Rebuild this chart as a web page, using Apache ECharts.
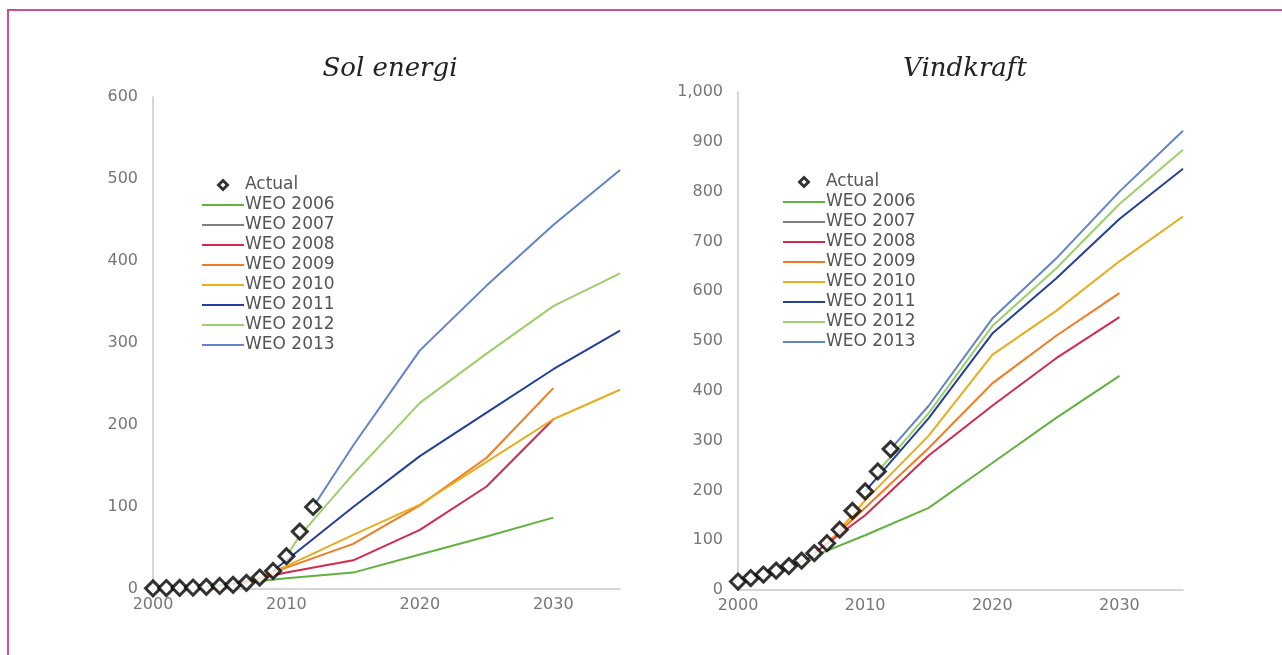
<!DOCTYPE html>
<html>
<head>
<meta charset="utf-8">
<script src="https://cdn.jsdelivr.net/npm/echarts@6/dist/echarts.min.js"></script>
<style>
html,body{margin:0;padding:0;background:#fff;}
#c{width:1282px;height:655px;}
</style>
</head>
<body>
<div id="c"></div>
<script>
// ---------- DATA ----------
var seriesNames = ['Actual','WEO 2006','WEO 2007','WEO 2008','WEO 2009','WEO 2010','WEO 2011','WEO 2012','WEO 2013'];
var xTicks = [2000, 2010, 2020, 2030];
var solarTicks = [0, 100, 200, 300, 400, 500, 600];
var windTicks = [0, 100, 200, 300, 400, 500, 600, 700, 800, 900, 1000];

// Sol energi (solar PV)
var solarActualYears  = [2000,2001,2002,2003,2004,2005,2006,2007,2008,2009,2010,2011,2012];
var solarActualValues = [0.8, 1.2, 1.4, 1.8, 2.6, 3.7, 5.1, 7.5, 14, 22, 40, 70, 100];
var solarWEO2006 = [[2004,3],[2010,13],[2015,20],[2020,42],[2025,64],[2030,87]];
var solarWEO2007 = [];
var solarWEO2008 = [[2006,6],[2010,20],[2015,35],[2020,72],[2025,125],[2030,207]];
var solarWEO2009 = [[2007,8],[2010,26],[2015,55],[2020,102],[2025,160],[2030,245]];
var solarWEO2010 = [[2008,14],[2010,28],[2015,66],[2020,103],[2025,155],[2030,207],[2035,243]];
var solarWEO2011 = [[2009,22],[2010,35],[2015,100],[2020,162],[2025,215],[2030,268],[2035,315]];
var solarWEO2012 = [[2010,40],[2011,65],[2015,140],[2020,227],[2025,287],[2030,345],[2035,385]];
var solarWEO2013 = [[2012,100],[2015,175],[2020,291],[2025,370],[2030,444],[2035,511]];

// Vindkraft (wind)
var windActualYears  = [2000,2001,2002,2003,2004,2005,2006,2007,2008,2009,2010,2011,2012];
var windActualValues = [17, 24, 31, 39, 48, 59, 74, 94, 121, 159, 198, 238, 283];
var windWEO2006 = [[2004,48],[2010,110],[2015,165],[2020,255],[2025,345],[2030,430]];
var windWEO2007 = [];
var windWEO2008 = [[2006,74],[2010,150],[2015,270],[2020,370],[2025,465],[2030,548]];
var windWEO2009 = [[2007,94],[2010,165],[2015,285],[2020,415],[2025,510],[2030,596]];
var windWEO2010 = [[2008,121],[2010,180],[2015,310],[2020,472],[2025,560],[2030,660],[2035,750]];
var windWEO2011 = [[2010,198],[2015,345],[2020,515],[2025,625],[2030,745],[2035,846]];
var windWEO2012 = [[2011,238],[2015,355],[2020,530],[2025,645],[2030,775],[2035,884]];
var windWEO2013 = [[2012,283],[2015,370],[2020,545],[2025,665],[2030,800],[2035,922]];

var colors = {
  'WEO 2006':'#62b23f','WEO 2007':'#808080','WEO 2008':'#d22a4e','WEO 2009':'#f07b22',
  'WEO 2010':'#e6ad1e','WEO 2011':'#233f9b','WEO 2012':'#9ccf6a','WEO 2013':'#6283c8'
};

// ---------- BUILD ----------
function zip(xs, ys){ return xs.map(function(x,i){return [x, ys[i]];}); }
var solarLines = [solarWEO2006,solarWEO2007,solarWEO2008,solarWEO2009,solarWEO2010,solarWEO2011,solarWEO2012,solarWEO2013];
var windLines  = [windWEO2006,windWEO2007,windWEO2008,windWEO2009,windWEO2010,windWEO2011,windWEO2012,windWEO2013];

var FONT = 'DejaVu Sans';
var series = [];
function addChart(idx, lines, actual){
  lines.forEach(function(d, i){
    var nm = seriesNames[i+1];
    series.push({
      type:'line', name:nm, xAxisIndex:idx, yAxisIndex:idx, data:d,
      symbol:'none', showSymbol:false, smooth:false,
      lineStyle:{width:2, color:colors[nm]}, itemStyle:{color:colors[nm]},
      z:2, animation:false
    });
  });
  series.push({
    type:'scatter', name:'Actual', xAxisIndex:idx, yAxisIndex:idx, data:actual,
    symbol:'diamond', symbolSize:[15,15],
    itemStyle:{color:'#ffffff', borderColor:'#000000', borderWidth:3},
    z:5, animation:false
  });
}
addChart(0, solarLines, zip(solarActualYears, solarActualValues));
addChart(1, windLines, zip(windActualYears, windActualValues));

function xAxis(idx){
  return {
    type:'value', gridIndex:idx, min:xTicks[0], max:2035, interval:xTicks[1]-xTicks[0],
    axisLine:{show:true, lineStyle:{color:'#c8c8c8', width:1.5}},
    axisTick:{show:false}, splitLine:{show:false},
    axisLabel:{show:true, showMaxLabel:false, color:'#777', fontFamily:FONT, fontSize:16, margin:8,
      formatter:function(v){return String(v);} }
  };
}
function yAxis(idx, ticks, comma){
  return {
    type:'value', gridIndex:idx, min:ticks[0], max:ticks[ticks.length-1], interval:ticks[1]-ticks[0],
    axisLine:{show:true, lineStyle:{color:'#c8c8c8', width:1.5}},
    axisTick:{show:false}, splitLine:{show:false},
    axisLabel:{color:'#777', fontFamily:FONT, fontSize:16, margin:15,
      formatter:function(v){ return comma ? v.toLocaleString('en-US') : String(v); } }
  };
}
var LINE_ICON = 'path://M0,0 L42,0 L42,2.2 L0,2.2 Z';
var DIAMOND_ICON = 'path://M5,0 L10,5 L5,10 L0,5 Z';
function legendData(){
  return seriesNames.map(function(n){
    if(n==='Actual') return {name:n, icon:DIAMOND_ICON,
      itemStyle:{color:'#ffffff', borderColor:'#000000', borderWidth:3}};
    return {name:n, icon:LINE_ICON, itemStyle:{color:colors[n], borderWidth:0}};
  });
}
function legend(left, top){
  return {
    orient:'vertical', left:left, top:top, itemWidth:42, itemHeight:9, itemGap:0,
    selectedMode:false, symbolKeepAspect:true, data:legendData(),
    textStyle:{color:'#555', fontFamily:FONT, fontSize:17, lineHeight:20, padding:[0,0,0,-4]}
  };
}

var chart = echarts.init(document.getElementById('c'), null, {renderer:'canvas'});
chart.setOption({
  backgroundColor:'#ffffff',
  animation:false,
  title:[
    {text:'Sol energi', left:385, top:51, textAlign:'center',
     textStyle:{fontFamily:'DejaVu Serif', fontStyle:'italic', fontWeight:'normal', fontSize:26, color:'#222'}},
    {text:'Vindkraft', left:960, top:51, textAlign:'center',
     textStyle:{fontFamily:'DejaVu Serif', fontStyle:'italic', fontWeight:'normal', fontSize:26, color:'#222'}}
  ],
  legend:[legend(197, 170), legend(778, 167)],
  grid:[
    {left:153, right:1282-620, top:97, bottom:655-589},
    {left:738, right:1282-1183, top:92, bottom:655-590}
  ],
  xAxis:[xAxis(0), xAxis(1)],
  yAxis:[yAxis(0, solarTicks, false), yAxis(1, windTicks, true)],
  series:series,
  graphic:[
    {type:'rect', shape:{x:8, y:10, width:1300, height:700}, silent:true, z:100,
     style:{fill:null, stroke:'#cc4f8e', lineWidth:2}}
  ]
});
</script>
</body>
</html>
